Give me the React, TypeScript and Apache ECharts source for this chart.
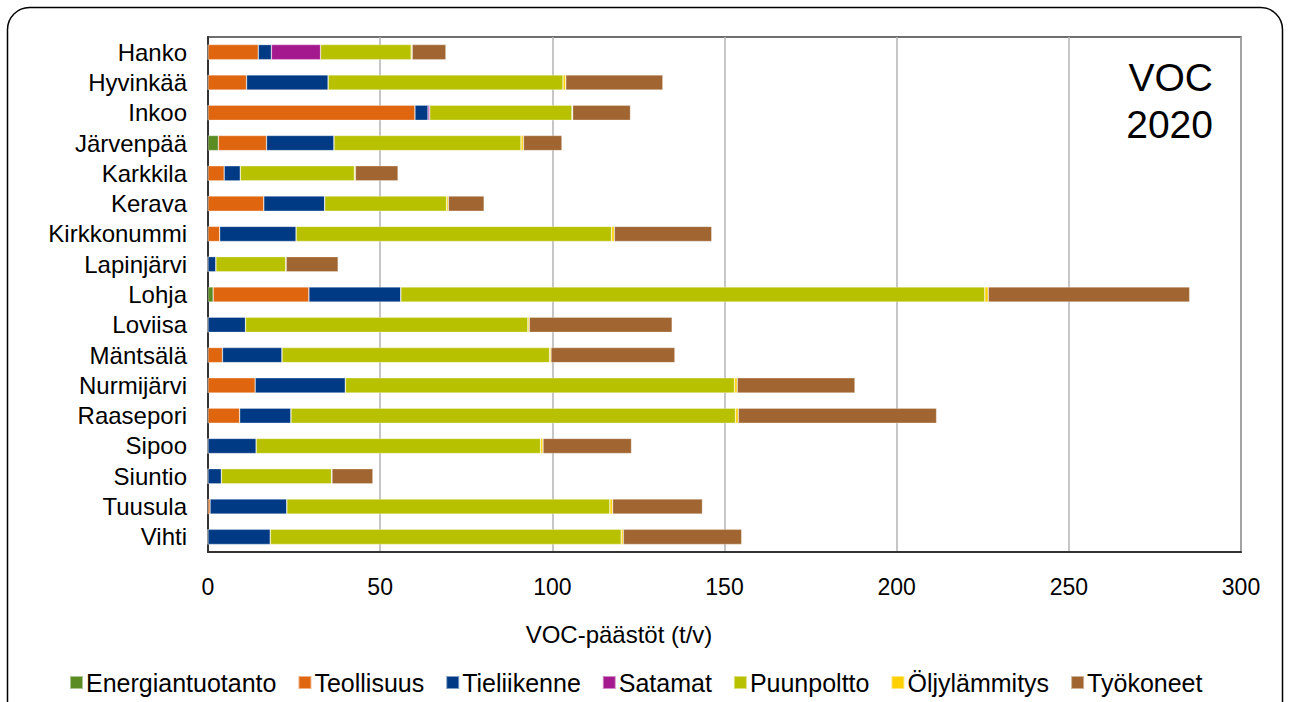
import React, { useEffect, useRef } from "react";
import * as echarts from "echarts";

const categories = ["Hanko", "Hyvinkää", "Inkoo", "Järvenpää", "Karkkila", "Kerava", "Kirkkonummi", "Lapinjärvi", "Lohja", "Loviisa", "Mäntsälä", "Nurmijärvi", "Raasepori", "Sipoo", "Siuntio", "Tuusula", "Vihti"];

const energiantuotanto = [0, 0, 0, 3.0, 0, 0, 0, 0, 1.5, 0, 0, 0, 0, 0, 0, 0, 0];
const teollisuus = [14.6, 11.2, 60.1, 14.0, 4.7, 16.2, 3.4, 0, 27.8, 0, 4.2, 13.7, 9.2, 0, 0, 0.6, 0];
const tieliikenne = [3.8, 23.7, 3.8, 19.6, 4.7, 17.7, 22.2, 2.3, 26.7, 10.9, 17.3, 26.2, 14.9, 14.0, 3.9, 22.3, 18.1];
const satamat = [14.3, 0, 0.5, 0, 0, 0, 0, 0, 0, 0, 0, 0, 0, 0, 0, 0, 0];
const puunpoltto = [26.3, 68.2, 41.3, 54.3, 33.1, 35.4, 91.6, 20.3, 169.6, 82.0, 77.7, 113.0, 129.1, 82.6, 32.0, 93.8, 101.9];
const oljylammitys = [0.3, 0.8, 0.2, 0.7, 0.3, 0.5, 0.8, 0.1, 1.0, 0.4, 0.4, 0.8, 0.8, 0.7, 0.1, 0.8, 0.6];
const tyokoneet = [9.8, 28.2, 16.8, 11.2, 12.4, 10.4, 28.3, 15.1, 58.5, 41.5, 36.0, 34.2, 57.6, 25.7, 11.9, 26.1, 34.4];

const seriesNames = ["Energiantuotanto", "Teollisuus", "Tieliikenne", "Satamat", "Puunpoltto", "Öljylämmitys", "Työkoneet"];
const seriesData = [energiantuotanto, teollisuus, tieliikenne, satamat, puunpoltto, oljylammitys, tyokoneet];
const seriesColors = ["#5B8C23", "#DF650F", "#003A85", "#A5198F", "#B8C100", "#FFD000", "#A06530"];

const xTicks = [0, 50, 100, 150, 200, 250, 300];

export default function App() {
  const ref = useRef<HTMLDivElement>(null);
  useEffect(() => {
    document.body.style.margin = "0";
    const chart = echarts.init(ref.current!, undefined, { renderer: "svg" });
    const font = "'Liberation Sans', Arial, sans-serif";
    chart.setOption({
      animation: false,
      backgroundColor: "#ffffff",
      textStyle: { fontFamily: font },
      grid: {
        left: 208,
        right: 49,
        top: 37,
        bottom: 150,
        show: true,
        borderColor: "#404040",
        borderWidth: 1.5,
      },
      legend: {
        data: seriesNames,
        top: 665,
        left: 64,
        itemWidth: 13,
        itemHeight: 13,
        itemGap: 21,
        icon: "rect",
        textStyle: { fontSize: 25, color: "#000", fontFamily: font, padding: [0, 0, 0, -2] },
      },
      xAxis: {
        type: "value",
        min: xTicks[0],
        max: xTicks[xTicks.length - 1],
        interval: 50,
        axisLine: { show: true, lineStyle: { color: "#333", width: 2 } },
        axisTick: { show: false },
        axisLabel: { fontSize: 23, color: "#000", margin: 23, fontFamily: font },
        splitLine: { show: true, lineStyle: { color: "#b3b3b3", width: 1.5 } },
      },
      yAxis: {
        type: "category",
        data: categories,
        inverse: true,
        axisLine: { show: true, lineStyle: { color: "#333", width: 2 } },
        axisTick: { show: false },
        axisLabel: { interval: 0, fontSize: 24, color: "#000", margin: 21, fontFamily: font },
      },
      graphic: [
        {
          type: "rect",
          shape: { x: 7.5, y: 7.5, width: 1275, height: 720, r: 22 },
          style: { fill: "none", stroke: "#000", lineWidth: 1.5 },
          silent: true,
          z: 100,
        },
        {
          type: "text",
          x: 1213,
          y: 54,
          style: {
            text: "VOC\n2020",
            fontSize: 39,
            lineHeight: 47,
            fill: "#000",
            textAlign: "right",
            fontFamily: font,
          },
        },
        {
          type: "text",
          x: 619,
          y: 622,
          style: {
            text: "VOC-päästöt (t/v)",
            fontSize: 24,
            fill: "#000",
            textAlign: "center",
            fontFamily: font,
          },
        },
      ],
      series: seriesNames.map((name, i) => ({
        name,
        type: "bar",
        stack: "total",
        data: seriesData[i],
        barCategoryGap: "50%",
        itemStyle: { color: seriesColors[i], borderColor: "rgba(255,255,255,0.5)", borderWidth: 0.6 },
      })),
    });
    return () => chart.dispose();
  }, []);
  return <div ref={ref} style={{ width: 1290, height: 702 }} />;
}
